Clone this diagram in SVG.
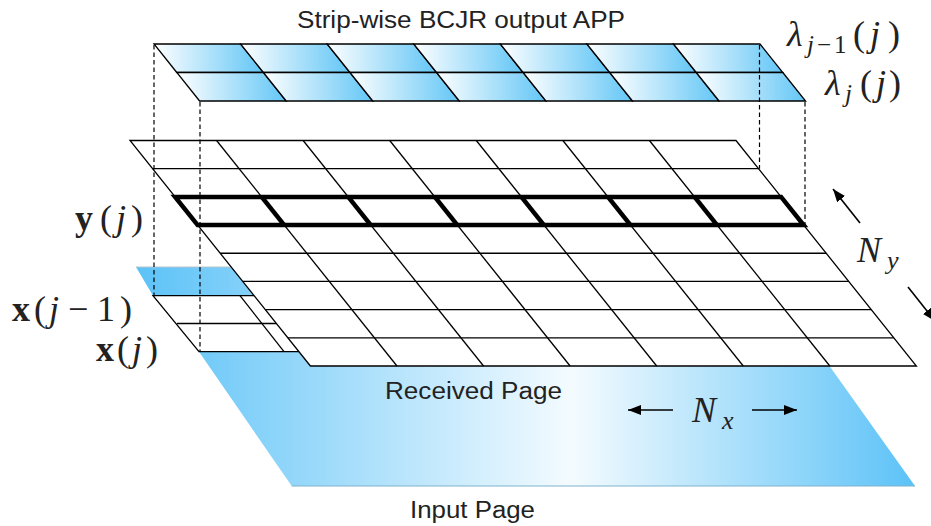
<svg xmlns="http://www.w3.org/2000/svg" width="931" height="526" viewBox="0 0 931 526">
<style>
.ln{stroke:#000;stroke-width:1.3;fill:none}
.cell{stroke:#000;stroke-width:1.3;fill:url(#cellg)}
.dash{stroke:#000;stroke-width:1.2;stroke-dasharray:4.5,3;fill:none}
.arr{stroke:#000;stroke-width:1.6;fill:none;marker-end:url(#ah)}
.sans{font-family:"Liberation Sans",Arial,sans-serif;font-size:23px;fill:#222}
.math{font-family:"Liberation Serif","Times New Roman",serif;font-weight:normal;font-size:36px;fill:#222}
.it{font-style:italic}
.bf{font-weight:bold}
.sub{font-size:25px}
</style>
<defs>
<linearGradient id="cellg" x1="0" y1="0" x2="1" y2="0">
<stop offset="0" stop-color="#ffffff"/>
<stop offset="1" stop-color="#62c6f6"/>
</linearGradient>
<linearGradient id="pageg" x1="136" y1="0" x2="915" y2="0" gradientUnits="userSpaceOnUse">
<stop offset="0" stop-color="#5cc2f7"/>
<stop offset="0.56" stop-color="#f4fbff"/>
<stop offset="1" stop-color="#5cc2f7"/>
</linearGradient>
<marker id="ah" markerUnits="userSpaceOnUse" markerWidth="14" markerHeight="10" refX="13" refY="5" orient="auto">
<path d="M0,0 L13,5 L0,10 Z" fill="#000"/>
</marker>
</defs>
<rect width="931" height="526" fill="#fff"/>

<g id="input-page">
<polygon points="136,267 759,267 915,486 291.7,486 199,351.7 153,295.7" fill="url(#pageg)"/>
<line x1="136" y1="267" x2="240" y2="267" stroke="#b8c4cc" stroke-width="1"/>
<line x1="291.7" y1="486" x2="915" y2="486" stroke="#7fb2cc" stroke-width="1"/>
</g>

<g id="input-grid">
<polygon points="153,295.7 290,295.7 330,351.7 199,351.7" fill="#fff" stroke="#000" stroke-width="1.3"/>
<line class="ln" x1="177" y1="323.5" x2="300" y2="323.5"/>
<line class="ln" x1="240" y1="295.7" x2="284" y2="351.7"/>
</g>

<g id="received-page">
<polygon points="130,140.5 736,140.5 916.4,366 310.4,366" fill="#fff" stroke="#000" stroke-width="1.3"/>
<line class="ln" x1="152.55" y1="168.69" x2="758.55" y2="168.69"/>
<line class="ln" x1="175.1" y1="196.88" x2="781.1" y2="196.88"/>
<line class="ln" x1="197.65" y1="225.06" x2="803.65" y2="225.06"/>
<line class="ln" x1="220.2" y1="253.25" x2="826.2" y2="253.25"/>
<line class="ln" x1="242.75" y1="281.44" x2="848.75" y2="281.44"/>
<line class="ln" x1="265.3" y1="309.63" x2="871.3" y2="309.63"/>
<line class="ln" x1="287.85" y1="337.81" x2="893.85" y2="337.81"/>
<line class="ln" x1="216.57" y1="140.5" x2="396.97" y2="366"/>
<line class="ln" x1="303.14" y1="140.5" x2="483.54" y2="366"/>
<line class="ln" x1="389.71" y1="140.5" x2="570.11" y2="366"/>
<line class="ln" x1="476.29" y1="140.5" x2="656.69" y2="366"/>
<line class="ln" x1="562.86" y1="140.5" x2="743.26" y2="366"/>
<line class="ln" x1="649.43" y1="140.5" x2="829.83" y2="366"/>
</g>

<g id="highlight-row" stroke="#000" stroke-width="4.5" fill="none" stroke-linejoin="miter">
<polygon points="175.1,196.88 781.1,196.88 803.65,225.06 197.65,225.06"/>
<line x1="261.67" y1="196.88" x2="284.22" y2="225.06"/>
<line x1="348.24" y1="196.88" x2="370.79" y2="225.06"/>
<line x1="434.81" y1="196.88" x2="457.36" y2="225.06"/>
<line x1="521.39" y1="196.88" x2="543.94" y2="225.06"/>
<line x1="607.96" y1="196.88" x2="630.51" y2="225.06"/>
<line x1="694.53" y1="196.88" x2="717.08" y2="225.06"/>
</g>

<g id="app-strip">
<polygon class="cell" points="154,44 240.57,44 263.37,72.5 176.8,72.5"/>
<polygon class="cell" points="240.57,44 327.14,44 349.94,72.5 263.37,72.5"/>
<polygon class="cell" points="327.14,44 413.71,44 436.51,72.5 349.94,72.5"/>
<polygon class="cell" points="413.71,44 500.29,44 523.09,72.5 436.51,72.5"/>
<polygon class="cell" points="500.29,44 586.86,44 609.66,72.5 523.09,72.5"/>
<polygon class="cell" points="586.86,44 673.43,44 696.23,72.5 609.66,72.5"/>
<polygon class="cell" points="673.43,44 760,44 782.8,72.5 696.23,72.5"/>
<polygon class="cell" points="176.8,72.5 263.37,72.5 286.17,101 199.6,101"/>
<polygon class="cell" points="263.37,72.5 349.94,72.5 372.74,101 286.17,101"/>
<polygon class="cell" points="349.94,72.5 436.51,72.5 459.31,101 372.74,101"/>
<polygon class="cell" points="436.51,72.5 523.09,72.5 545.89,101 459.31,101"/>
<polygon class="cell" points="523.09,72.5 609.66,72.5 632.46,101 545.89,101"/>
<polygon class="cell" points="609.66,72.5 696.23,72.5 719.03,101 632.46,101"/>
<polygon class="cell" points="696.23,72.5 782.8,72.5 805.6,101 719.03,101"/>
</g>

<g id="connectors">
<line class="dash" x1="154" y1="45" x2="154" y2="295.7"/>
<line class="dash" x1="200" y1="102" x2="200" y2="351.7"/>
<line class="dash" x1="759.5" y1="45" x2="759.5" y2="168.7"/>
<line class="dash" x1="805" y1="102" x2="805" y2="225"/>
<line class="arr" x1="673" y1="410" x2="628" y2="410"/>
<line class="arr" x1="752" y1="410" x2="797" y2="410"/>
<line class="arr" x1="860" y1="223" x2="833" y2="189"/>
<line class="arr" x1="908" y1="287" x2="935" y2="321"/>
</g>

<g id="labels">
<text class="sans" x="297" y="28" textLength="328" lengthAdjust="spacingAndGlyphs">Strip-wise BCJR output APP</text>
<text class="sans" x="385" y="399" textLength="177" lengthAdjust="spacingAndGlyphs">Received Page</text>
<text class="sans" x="410" y="518" textLength="125" lengthAdjust="spacingAndGlyphs">Input Page</text>
<text class="math" y="46"><tspan class="it" x="787">λ</tspan><tspan class="it sub" x="807" y="53">j</tspan><tspan class="sub" x="817">−</tspan><tspan class="sub" x="834">1</tspan><tspan x="853" y="46">(</tspan><tspan class="it" x="870">j</tspan><tspan x="888">)</tspan></text>
<text class="math" y="95"><tspan class="it" x="825">λ</tspan><tspan class="it sub" x="845" y="102">j</tspan><tspan x="860" y="95">(</tspan><tspan class="it" x="876">j</tspan><tspan x="889">)</tspan></text>
<text class="math" y="230"><tspan class="bf" x="75">y</tspan><tspan x="100">(</tspan><tspan class="it" x="116">j</tspan><tspan x="131">)</tspan></text>
<text class="math" y="321"><tspan class="bf" x="12">x</tspan><tspan x="34">(</tspan><tspan class="it" x="49">j</tspan><tspan x="68">−</tspan><tspan x="97">1</tspan><tspan x="120">)</tspan></text>
<text class="math" y="361"><tspan class="bf" x="96">x</tspan><tspan x="117">(</tspan><tspan class="it" x="132">j</tspan><tspan x="146">)</tspan></text>
<text class="math" y="262" font-size="38"><tspan class="it" x="857">N</tspan><tspan class="it" x="887" y="269" font-size="26">y</tspan></text>
<text class="math" y="422" font-size="38"><tspan class="it" x="692">N</tspan><tspan class="it" x="722" y="429" font-size="26">x</tspan></text>
</g>
</svg>
